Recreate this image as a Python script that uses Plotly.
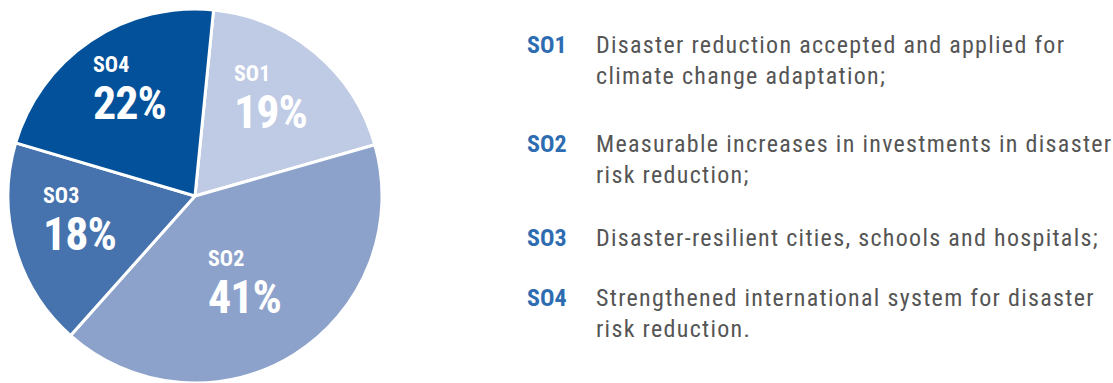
import math
import plotly.graph_objects as go

# Share of activities by strategic objective
codes = ["SO1", "SO2", "SO3", "SO4"]
shares = [19, 41, 18, 22]
colors = ["#BFCAE4", "#8DA2CB", "#4673AE", "#03519A"]
descriptions = [
    "Disaster reduction accepted and applied for<br>climate change adaptation;",
    "Measurable increases in investments in disaster<br>risk reduction;",
    "Disaster-resilient cities, schools and hospitals;",
    "Strengthened international system for disaster<br>risk reduction.",
]

W, H = 1113, 383
ROT = 5.7                 # first slice starts just clockwise of 12 o'clock
CX, CY, R = 195, 196, 187  # pie centre and radius in pixels

fig = go.Figure(go.Pie(
    labels=codes,
    values=shares,
    sort=False,
    direction="clockwise",
    rotation=ROT,
    marker=dict(colors=colors, line=dict(color="white", width=3)),
    textinfo="none",
    hoverinfo="label+percent",
    showlegend=False,
    domain=dict(x=[(CX - R) / W, (CX + R) / W], y=[1 - (CY + R) / H, 1 - (CY - R) / H]),
))

# In-slice labels, placed along each slice's mid-angle
radial = [0.666, 0.528, 0.628, 0.675]
nudge = [-2.6, 2.2, 4.4, 2.7]
total = sum(shares)
start = ROT
for code, v, f, dn in zip(codes, shares, radial, nudge):
    span = 360 * v / total
    mid = math.radians(start + span / 2 + dn)
    start += span
    px = CX + f * R * math.sin(mid)
    py = CY - f * R * math.cos(mid) + 3
    pct = round(100 * v / total)
    fig.add_annotation(
        x=px / W, y=1 - py / H, xref="paper", yref="paper",
        xanchor="center", yanchor="middle", align="left", showarrow=False,
        text=(f"<span style='font-size:22px'>{code}</span><br>"
              f"<span style='font-size:46px;letter-spacing:-1px'>{pct}%</span>"),
        font=dict(family="Roboto Condensed", size=36, color="white", weight="bold"),
    )

# Key of strategic objectives on the right
tops = [29, 128, 222, 282]
for code, desc, top in zip(codes, descriptions, tops):
    fig.add_annotation(
        x=525 / W, y=1 - top / H, xref="paper", yref="paper",
        xanchor="left", yanchor="top", align="left", showarrow=False,
        text=f"<b>{code}</b>",
        font=dict(family="Roboto Condensed", size=24, color="#2E6CB2"),
    )
    fig.add_annotation(
        x=594 / W, y=1 - top / H, xref="paper", yref="paper",
        xanchor="left", yanchor="top", align="left", showarrow=False,
        text=f"<span style='letter-spacing:1.3px'>{desc}</span>",
        font=dict(family="Roboto Condensed", size=24, color="#555555"),
    )

fig.update_layout(
    width=W, height=H,
    margin=dict(l=0, r=0, t=0, b=0),
    paper_bgcolor="white", plot_bgcolor="white",
)
fig.write_html("out.html")
